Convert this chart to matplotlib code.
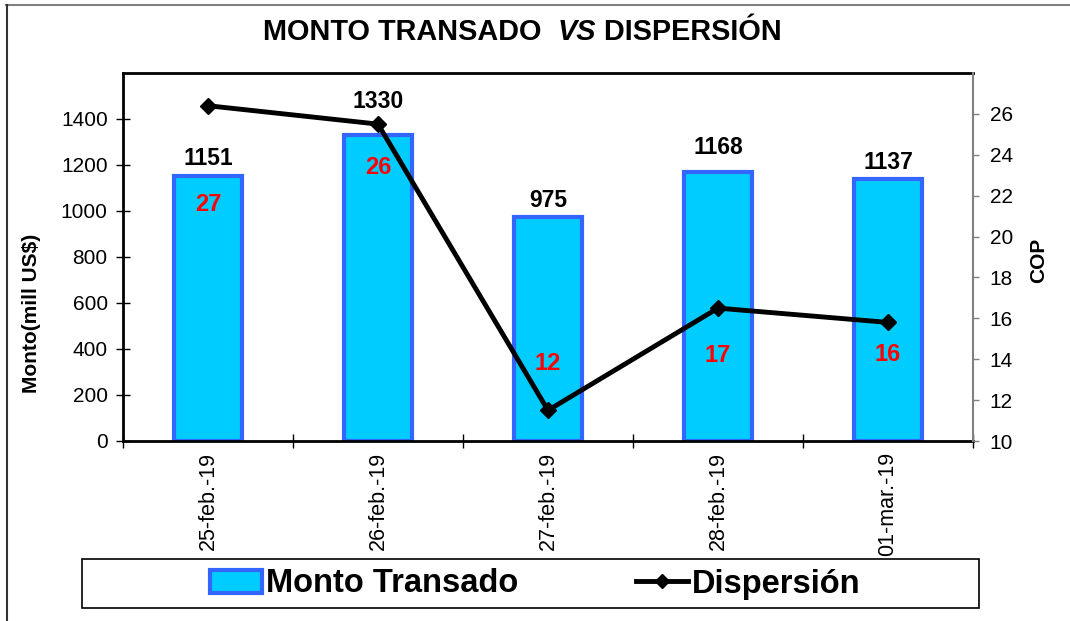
import matplotlib

matplotlib.use("Agg")
import matplotlib.pyplot as plt
from matplotlib.lines import Line2D
from matplotlib.patches import Patch, Rectangle

plt.rcParams["font.family"] = ["Liberation Sans", "DejaVu Sans"]

fechas = ["25-feb.-19", "26-feb.-19", "27-feb.-19", "28-feb.-19", "01-mar.-19"]
monto = [1151, 1330, 975, 1168, 1137]
dispersion = [26.4, 25.5, 11.5, 16.5, 15.8]
etiquetas_cop = ["27", "26", "12", "17", "16"]
# altura (en unidades del eje izquierdo) de las etiquetas rojas, puestas a mano
altura_cop = [1030, 1190, 335, 370, 375]
# separación en puntos de la etiqueta negra sobre cada barra
sep_monto = [13, 24, 12, 18, 12]

COLOR_BARRA = "#00CCFF"
COLOR_BORDE = "#3366FF"

fig = plt.figure(figsize=(10.70, 6.21), dpi=100)
ax = fig.add_axes([123 / 1070, 1 - 441 / 621, 850 / 1070, 368 / 621])
ax2 = ax.twinx()

x = list(range(len(fechas)))
ax.bar(x, monto, width=0.4, color=COLOR_BARRA, edgecolor=COLOR_BORDE, linewidth=3, zorder=2)
ax.set_xlim(-0.5, len(fechas) - 0.5)
ax.set_ylim(0, 1600)
ax.set_yticks(range(0, 1401, 200))
ax.set_xticks([i + 0.5 for i in range(-1, len(fechas))])
ax.set_xticklabels([])
ax.set_xticks(x, minor=True)
ax.set_xticklabels(fechas, minor=True, rotation=90, fontsize=15.5)
ax.tick_params(axis="x", which="minor", length=0, pad=8)
ax.tick_params(axis="x", which="major", direction="inout", length=10, width=1)
ax.tick_params(axis="y", direction="inout", length=10, width=1, labelsize=15, pad=6)
ax.set_ylabel("Monto(mill US$)", fontsize=15, fontweight="bold")
ax.yaxis.set_label_coords(-0.097, 0.348)
for lado in ["left", "bottom", "top"]:
    ax.spines[lado].set_linewidth(2)
ax.spines["right"].set_visible(False)

for i, v in enumerate(monto):
    ax.annotate(str(v), (i, v), xytext=(0, sep_monto[i]), textcoords="offset points",
                ha="center", va="center", fontsize=16.5, fontweight="bold", color="black", zorder=5)
    ax.text(i, altura_cop[i], etiquetas_cop[i], ha="center", va="center",
            fontsize=17, fontweight="bold", color="red", zorder=5)

ax2.plot(x, dispersion, color="black", linewidth=3.5, marker="D", markersize=8, zorder=4)
ax2.set_ylim(10, 28)
ax2.set_yticks(range(10, 27, 2))
ax2.tick_params(axis="y", direction="out", length=4, width=1, color="#808080", labelsize=15, pad=8)
ax2.set_ylabel("COP", fontsize=15, fontweight="bold")
ax2.yaxis.set_label_coords(1.066, 0.49)
ax2.spines["right"].set_color("#808080")
ax2.spines["right"].set_linewidth(1.5)
for lado in ["left", "bottom", "top"]:
    ax2.spines[lado].set_visible(False)

# título con "VS" en cursiva
y_titulo = 1 - 32 / 621
t1 = fig.text(263 / 1070, y_titulo, "MONTO TRANSADO  ", fontsize=20.8, fontweight="bold", va="center", ha="left")
t2 = fig.text(0, 0, "VS", fontsize=20.8, fontweight="bold", fontstyle="italic", va="center", ha="left")
t3 = fig.text(0, 0, " DISPERSIÓN", fontsize=20.8, fontweight="bold", va="center", ha="left")
fig.canvas.draw()
r = fig.canvas.get_renderer()
bb = t1.get_window_extent(r)
t2.set_position((bb.x1 / fig.bbox.width, y_titulo))
bb2 = t2.get_window_extent(r)
t3.set_position((bb2.x1 / fig.bbox.width, y_titulo))

# leyenda
manejadores = [
    Patch(facecolor=COLOR_BARRA, edgecolor=COLOR_BORDE, linewidth=3, label="Monto Transado"),
    Line2D([0], [0], color="black", linewidth=3.5, marker="D", markersize=7, label="Dispersión"),
]
fig.legend(handles=manejadores, loc="center", bbox_to_anchor=(535 / 1070, 1 - 584 / 621),
           ncol=2, frameon=False, prop={"size": 23.5, "weight": "bold"}, handlelength=1.6,
           handletextpad=0.12, columnspacing=3.6, borderpad=0)
fig.patches.append(Rectangle((82 / 1070, 1 - 608 / 621), 897 / 1070, 49 / 621, transform=fig.transFigure,
                             fill=False, edgecolor="black", linewidth=1.2))

# borde exterior (solo arriba e izquierda visibles)
fig.add_artist(Line2D([6 / 1070, 1], [1 - 4.5 / 621, 1 - 4.5 / 621], color="#808080", linewidth=1.5))
fig.add_artist(Line2D([6.5 / 1070, 6.5 / 1070], [0, 1 - 4.5 / 621], color="#333333", linewidth=1.5))

fig.savefig("out.png", dpi=100)
